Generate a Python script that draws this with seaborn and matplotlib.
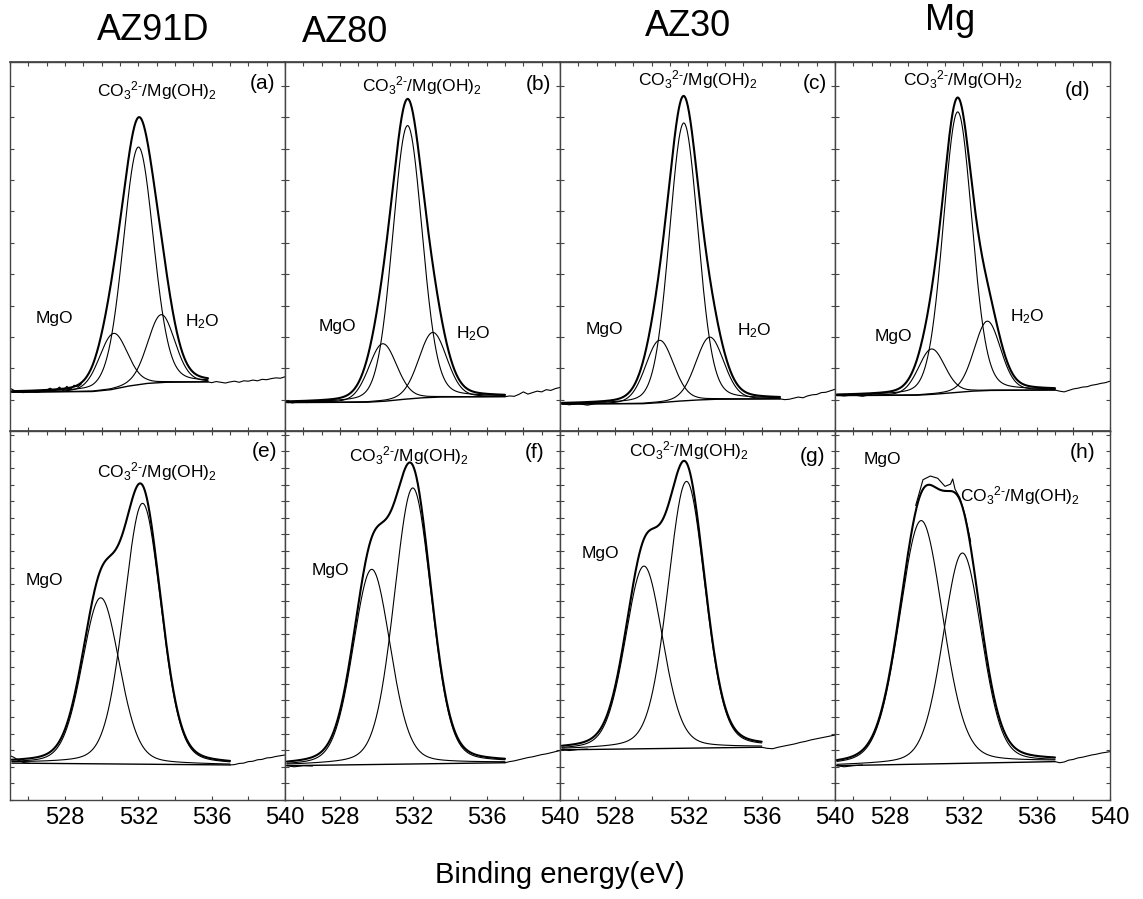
import numpy as np
import matplotlib
matplotlib.use("Agg")
import matplotlib.pyplot as plt
from matplotlib.ticker import MultipleLocator, NullFormatter
import seaborn as sns

sns.set_theme(style="ticks")
plt.rcParams["font.family"] = ["Liberation Sans", "DejaVu Sans"]
plt.rcParams["mathtext.fontset"] = "custom"
plt.rcParams["mathtext.rm"] = "Liberation Sans"
plt.rcParams["mathtext.it"] = "Liberation Sans"
plt.rcParams["mathtext.default"] = "regular"
plt.rcParams["text.color"] = "black"
plt.rcParams["xtick.color"] = "black"
plt.rcParams["ytick.color"] = "black"
plt.rcParams["axes.labelcolor"] = "black"

# ---------------- data (intensity in arbitrary units 0-100 per panel) -------------
alloys = ["AZ91D", "AZ80", "AZ30", "Mg"]
panel_tags = ["(a)", "(b)", "(c)", "(d)", "(e)", "(f)", "(g)", "(h)"]

# fitted range of each panel (eV)
fit_lo = [525.1, 525.1, 525.1, 525.1, 525.1, 525.1, 525.1, 525.1]
fit_hi = [535.8, 537.0, 537.0, 537.0, 537.0, 537.0, 536.0, 537.0]

# background (Shirley-like) control points
bg_x = [
    [525.1, 529.5, 530.5, 531.5, 532.5, 533.5, 535.8],
    [525.1, 529.5, 530.5, 531.5, 532.5, 533.5, 537.0],
    [525.1, 529.5, 530.5, 531.5, 532.5, 533.5, 537.0],
    [525.1, 529.5, 530.5, 531.5, 532.5, 533.5, 537.0],
    [525.1, 537.0],
    [525.1, 537.0],
    [525.1, 536.0],
    [525.1, 537.0],
]
bg_y = [
    [10.5, 10.7, 11.2, 12.2, 12.9, 13.2, 13.3],
    [7.7, 7.8, 8.1, 8.6, 9.0, 9.2, 9.3],
    [7.3, 7.4, 7.7, 8.1, 8.4, 8.6, 8.7],
    [9.6, 9.7, 10.0, 10.4, 10.8, 11.0, 11.1],
    [10.0, 9.5],
    [9.3, 10.1],
    [13.6, 14.3],
    [9.3, 10.4],
]

# fitted components: centre (eV), height above background, FWHM (eV)
mgo_center = [530.64, 530.33, 530.43, 530.27, 529.95, 529.73, 529.58, 529.70]
mgo_height = [15.1, 15.6, 16.9, 12.3, 45.0, 52.9, 49.5, 66.0]
mgo_fwhm = [1.8, 1.8, 1.8, 1.7, 2.4, 2.4, 2.4, 2.8]

co3_center = [532.00, 531.68, 531.75, 531.69, 532.23, 531.97, 531.90, 531.95]
co3_height = [64.4, 74.1, 75.3, 76.0, 70.7, 74.8, 72.3, 57.0]
co3_fwhm = [1.95, 1.9, 1.85, 1.85, 2.4, 2.4, 2.4, 2.5]

h2o_center = [533.25, 533.06, 533.17, 533.31, None, None, None, None]
h2o_height = [18.4, 17.6, 16.9, 18.8, None, None, None, None]
h2o_fwhm = [1.75, 1.8, 1.8, 1.7, None, None, None, None]

lorentz_share = [0.15, 0.15, 0.15, 0.15, 0.2, 0.2, 0.2, 0.2]

# raw spectrum outside the fitted envelope (high binding energy tails)
tail_x = [
    [535.8, 536.0, 536.25, 536.5, 536.75, 537.0, 537.25, 537.5, 537.75, 538.0, 538.25, 538.5, 538.75, 539.0, 539.25, 539.5, 539.75, 540.0],
    [537.0, 537.25, 537.5, 537.75, 538.0, 538.25, 538.5, 538.75, 539.0, 539.25, 539.5, 539.75, 540.0],
    [537.0, 537.25, 537.5, 537.75, 538.0, 538.25, 538.5, 538.75, 539.0, 539.25, 539.5, 539.75, 540.0],
    [537.0, 537.25, 537.5, 537.75, 538.0, 538.25, 538.5, 538.75, 539.0, 539.25, 539.5, 539.75, 540.0],
    [537.0, 537.25, 537.5, 537.75, 538.0, 538.25, 538.5, 538.75, 539.0, 539.25, 539.5, 539.75, 540.0],
    [537.0, 537.25, 537.5, 537.75, 538.0, 538.25, 538.5, 538.75, 539.0, 539.25, 539.5, 539.75, 540.0],
    [536.0, 536.3, 536.6, 536.9, 537.2, 537.5, 537.8, 538.1, 538.4, 538.7, 539.0, 539.3, 539.6, 540.0],
    [537.0, 537.25, 537.5, 537.75, 538.0, 538.25, 538.5, 538.75, 539.0, 539.25, 539.5, 539.75, 540.0],
]
tail_y = [
    [13.3, 13.1, 13.4, 13.2, 13.0, 13.3, 13.5, 13.2, 13.6, 13.5, 13.8, 13.6, 14.0, 13.9, 14.2, 14.4, 14.3, 14.7],
    [9.3, 9.5, 9.4, 9.9, 10.6, 10.0, 10.4, 10.8, 10.6, 11.2, 11.0, 11.5, 11.8],
    [8.7, 8.5, 8.6, 8.9, 9.2, 9.0, 9.5, 9.8, 9.9, 10.4, 10.5, 10.9, 11.3],
    [11.1, 10.8, 10.6, 11.0, 11.4, 11.6, 11.9, 12.0, 12.4, 12.6, 12.9, 13.1, 13.5],
    [9.5, 9.6, 9.9, 10.0, 10.4, 10.5, 10.9, 11.0, 11.4, 11.5, 11.8, 12.0, 12.2],
    [10.1, 10.4, 10.6, 10.9, 11.2, 11.5, 11.7, 12.0, 12.3, 12.5, 12.8, 13.1, 13.4],
    [14.3, 14.0, 13.9, 14.3, 14.6, 14.9, 15.2, 15.6, 15.9, 16.3, 16.6, 16.9, 17.2, 17.6],
    [10.4, 10.1, 10.3, 10.8, 11.0, 11.4, 11.6, 11.9, 12.2, 12.4, 12.7, 12.9, 13.1],
]

# raw spectrum at the low binding energy end (noise above background)
head_x = [
    [525.0, 525.3, 525.7, 526.1, 526.5, 526.9, 527.2, 527.4, 527.7, 527.9, 528.1, 528.3, 528.5, 528.7, 528.9],
    [525.0, 525.4, 525.8, 526.2, 526.6, 527.0, 527.4, 527.8],
    [525.0, 525.5, 526.0, 526.5, 527.0, 527.5],
    [525.0, 525.5, 526.0, 526.5, 527.0],
    [525.0, 525.2, 525.5, 525.8, 526.1],
    [525.0, 525.5, 526.0, 526.5],
    [525.0, 525.5, 526.0, 526.5],
    [525.0, 525.5, 526.0, 526.5],
]
head_y = [
    [11.6, 10.8, 10.4, 10.6, 10.5, 10.9, 11.6, 10.8, 11.9, 11.0, 12.1, 11.3, 12.4, 11.9, 12.8],
    [8.2, 7.6, 8.0, 7.7, 8.1, 7.9, 8.3, 8.4],
    [7.5, 7.1, 7.4, 7.0, 7.5, 7.6],
    [9.8, 9.5, 9.8, 9.4, 9.9],
    [12.0, 11.6, 10.6, 10.1, 9.9],
    [9.4, 9.0, 9.3, 9.2],
    [13.7, 13.4, 13.7, 13.8],
    [9.4, 9.0, 9.3, 9.5],
]

# raw spectrum near the maximum of panel (h), where it departs from the envelope
h_top_x = [529.4, 529.8, 530.2, 530.6, 531.0, 531.3, 531.42, 531.55, 531.8, 532.1, 532.4]
h_top_y = [79.8, 86.8, 87.8, 87.2, 85.0, 85.6, 87.0, 84.2, 82.0, 77.0, 70.0]

# annotation positions (eV, intensity)
co3_label_xy = [(533.0, 92.3), (532.45, 93.7), (532.5, 95.3), (532.0, 95.3),
                (533.0, 89.0), (531.78, 93.4), (532.05, 94.8), (535.1, 82.5)]
mgo_label_xy = [(527.4, 30.5), (527.87, 28.2), (527.4, 27.5), (528.2, 25.7),
                (526.9, 59.4), (527.46, 62.1), (527.2, 66.7), (527.6, 92.3)]
h2o_label_xy = [(535.5, 29.6), (535.25, 26.4), (535.6, 27.3), (535.5, 31.0),
                None, None, None, None]
tag_xy = [(538.8, 94.1), (538.8, 94.0), (538.9, 94.1), (538.25, 92.3),
          (538.9, 94.4), (538.6, 94.2), (538.8, 93.2), (538.5, 94.2)]

# ---------------- drawing -------------
def peak(x, c, h, w, eta):
    g = np.exp(-4.0 * np.log(2.0) * (x - c) ** 2 / w ** 2)
    l = 1.0 / (1.0 + 4.0 * (x - c) ** 2 / w ** 2)
    return h * ((1 - eta) * g + eta * l)

W, H = 1143, 899
fig = plt.figure(figsize=(W / 100, H / 100), dpi=100)
left_px, top_px, pw, ph = 10, 62, 275, 369

spine_col = "#444444"
co3_text = r"CO$_3$$^{2\text{-}}$/Mg(OH)$_2$"

for i in range(8):
    row, col = divmod(i, 4)
    x0 = (left_px + col * pw) / W
    y0 = 1 - (top_px + (row + 1) * ph) / H
    ax = fig.add_axes([x0, y0, pw / W, ph / H])

    eta = lorentz_share[i]
    xs = np.linspace(fit_lo[i], fit_hi[i], 600)
    bg = np.interp(xs, bg_x[i], bg_y[i])
    comps = [peak(xs, mgo_center[i], mgo_height[i], mgo_fwhm[i], eta),
             peak(xs, co3_center[i], co3_height[i], co3_fwhm[i], eta)]
    if h2o_center[i] is not None:
        comps.append(peak(xs, h2o_center[i], h2o_height[i], h2o_fwhm[i], eta))
    env = bg + sum(comps)

    kw = dict(ax=ax, color="black", estimator=None, sort=False, legend=False)
    sns.lineplot(x=bg_x[i], y=bg_y[i], linewidth=1.0, **kw)
    for c in comps:
        sns.lineplot(x=xs, y=bg + c, linewidth=0.8, **kw)
    sns.lineplot(x=xs, y=env, linewidth=1.5, **kw)
    sns.lineplot(x=tail_x[i], y=tail_y[i], linewidth=0.8, **kw)
    sns.lineplot(x=head_x[i], y=head_y[i], linewidth=0.8, **kw)
    if i == 7:
        sns.lineplot(x=h_top_x, y=h_top_y, linewidth=0.8, **kw)

    ax.set_xlim(525, 540)
    ax.set_ylim(0, 100)
    ax.set_xlabel("")
    ax.set_ylabel("")
    ax.xaxis.set_major_locator(MultipleLocator(4))
    ax.xaxis.set_minor_locator(MultipleLocator(2))
    ystep = 8.5 if row == 0 else 4.5
    ax.yaxis.set_major_locator(MultipleLocator(ystep))
    ax.yaxis.set_major_formatter(NullFormatter())
    ax.tick_params(which="both", direction="in", top=False, bottom=True, left=True, right=True,
                   length=3, width=0.8, color=spine_col, labelsize=17, pad=5)
    ax.tick_params(axis="y", which="both", labelleft=False)
    if row == 0:
        ax.tick_params(axis="x", which="both", labelbottom=False)
    top_ax = ax.secondary_xaxis("top")
    top_ax.set_xticks(np.arange(525, 541, 1))
    top_ax.set_xticklabels([])
    top_ax.tick_params(axis="x", which="major", direction="in", top=True, bottom=False,
                       length=3, width=0.8, color=spine_col)
    top_ax.spines["top"].set_color(spine_col)
    for s in ax.spines.values():
        s.set_color(spine_col)
        s.set_linewidth(1.0)
    ax.set_facecolor("white")

    ax.text(*co3_label_xy[i], co3_text, ha="center", va="center", fontsize=12.5)
    ax.text(*mgo_label_xy[i], "MgO", ha="center", va="center", fontsize=12.5)
    if h2o_label_xy[i] is not None:
        ax.text(*h2o_label_xy[i], r"H$_2$O", ha="center", va="center", fontsize=12.5)
    ax.text(*tag_xy[i], panel_tags[i], ha="center", va="center", fontsize=15)

title_pos = [(153, 31), (345, 33), (688, 27), (950, 20)]
for name, (tx, ty) in zip(alloys, title_pos):
    fig.text(tx / W, 1 - ty / H, name, ha="center", va="center", fontsize=26)

fig.text(560 / W, 1 - 875 / H, "Binding energy(eV)", ha="center", va="center", fontsize=21)

fig.savefig("out.png", dpi=100, facecolor="white")
